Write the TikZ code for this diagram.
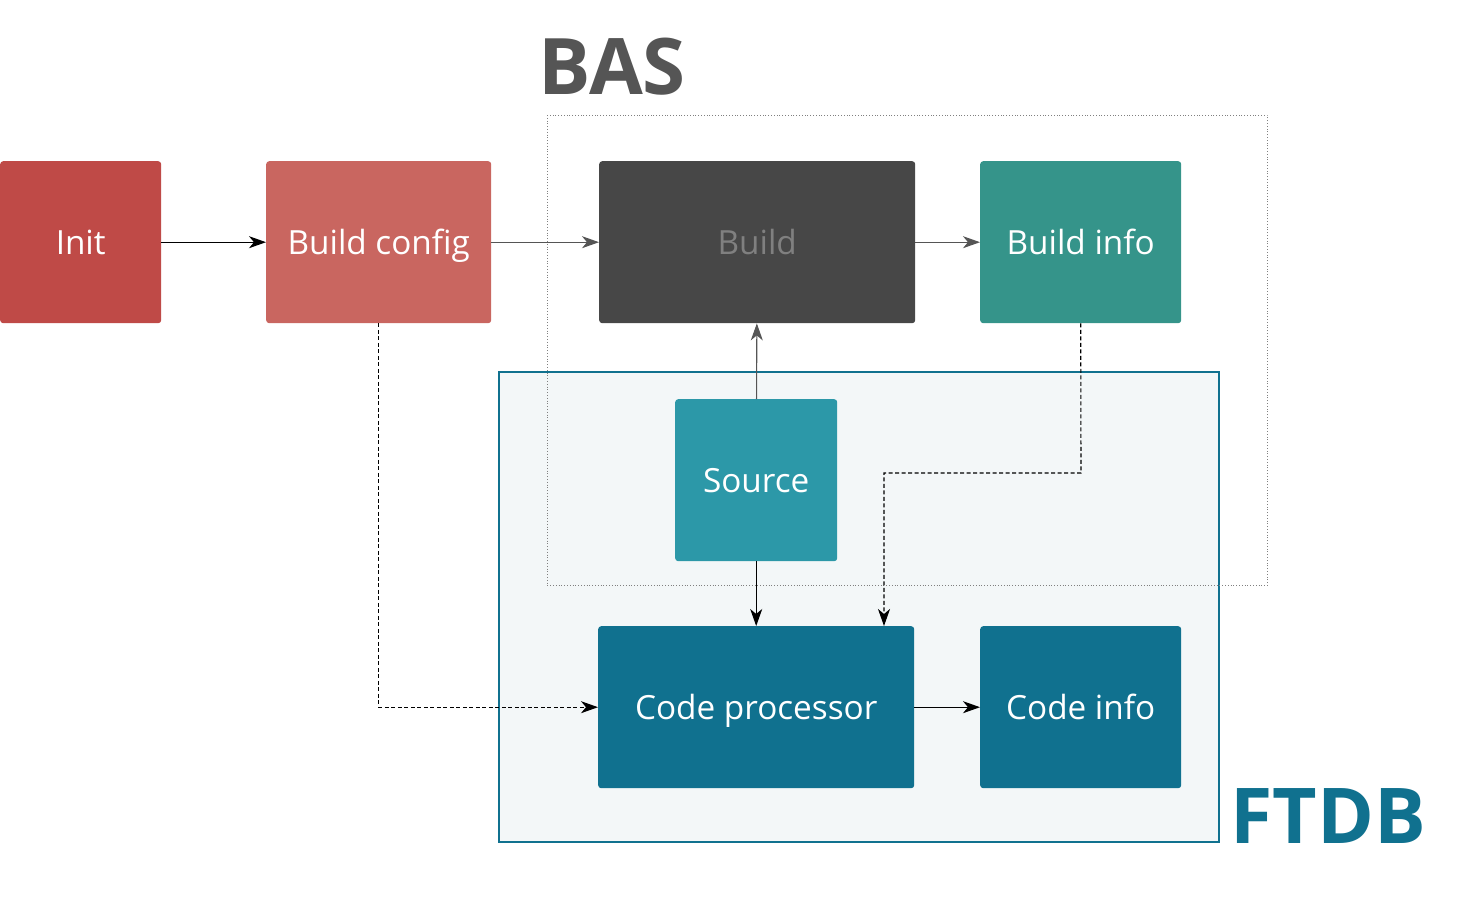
\documentclass[tikz,border=0pt]{standalone}
\usepackage{fontspec}
\setmainfont{Open Sans}
\usetikzlibrary{arrows.meta}
\definecolor{initc}{HTML}{BF4A47}
\definecolor{cfgc}{HTML}{C96660}
\definecolor{buildc}{HTML}{474747}
\definecolor{infoc}{HTML}{35948A}
\definecolor{srcc}{HTML}{2C98A8}
\definecolor{ftdbc}{HTML}{10718F}
\definecolor{ftdbbg}{HTML}{F3F7F8}
\definecolor{basc}{HTML}{555555}
\begin{document}
\begin{tikzpicture}[x=1pt,y=-1pt,
  box/.style={draw=none,rounded corners=3pt,inner sep=0pt,font=\fontsize{33.3}{38}\selectfont,text=white,text height=24pt,text depth=0pt},
  conn/.style={-{Stealth[length=17pt,width=12pt,inset=5pt]},line width=1.1pt},
  grayconn/.style={conn,draw=basc,color=basc},
  dconn/.style={conn,dash pattern=on 4pt off 2.5pt}]
\useasboundingbox (0,0) rectangle (1468,907);
% FTDB region
\node[draw=ftdbc,fill=ftdbbg,line width=1.6pt,minimum width=720pt,minimum height=470pt,inner sep=0pt,anchor=north west] (ftdb) at (498,371) {};
% BAS region
\node[draw=gray,dotted,line width=0.8pt,minimum width=720pt,minimum height=470pt,inner sep=0pt,anchor=north west] (bas) at (547,115) {};
\node[font=\fontsize{78}{84}\bfseries\selectfont,text=basc,anchor=base west,inner sep=0pt] (bast) at (538,95) {BAS};
\node[font=\fontsize{77}{84}\bfseries\selectfont,text=ftdbc,anchor=base west,inner sep=0pt] (ftdbt) at (1230,843) {FTDB};
% nodes
\node[box,fill=initc,minimum width=161pt,minimum height=162pt,anchor=north west] (init) at (0,161) {Init};
\node[box,fill=cfgc,minimum width=225pt,minimum height=162pt,anchor=north west] (cfg) at (266,161) {Build config};
\node[box,fill=buildc,text=gray,minimum width=316pt,minimum height=162pt,anchor=north west] (build) at (599,161) {Build};
\node[box,fill=infoc,minimum width=201pt,minimum height=162pt,anchor=north west] (info) at (980,161) {Build info};
\node[box,fill=srcc,minimum width=162pt,minimum height=162pt,anchor=north west] (src) at (675,399) {Source};
\node[box,fill=ftdbc,minimum width=316pt,minimum height=162pt,anchor=north west] (proc) at (598,626) {Code processor};
\node[box,fill=ftdbc,minimum width=201pt,minimum height=162pt,anchor=north west] (cinfo) at (980,626) {Code info};
% connectors
\draw[conn] (init) -- (cfg);
\draw[grayconn] (cfg) -- (build);
\draw[grayconn] (build) -- (info);
\draw[grayconn] (src) -- (build);
\draw[conn] (src) -- (proc);
\draw[conn] (proc) -- (cinfo);
\coordinate (c1) at (1081,473);
\coordinate (c2) at (884,473);
\draw[dconn] (info.south) -- (c1) -- (c2) -- (c2 |- proc.north);
\draw[dconn] (cfg.south) |- (proc.west);
\end{tikzpicture}
\end{document}
